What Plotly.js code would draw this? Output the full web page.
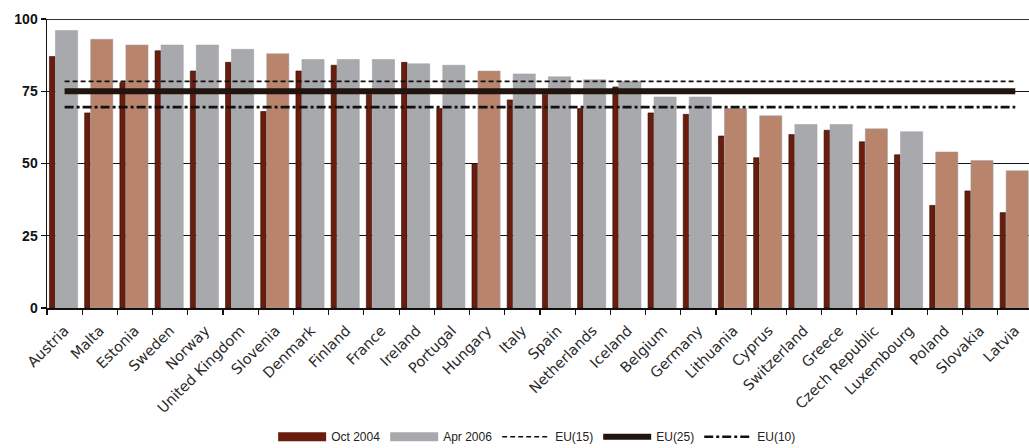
<!DOCTYPE html>
<html>
<head>
<meta charset="utf-8">
<script src="https://cdn.plot.ly/plotly-3.0.1.min.js"></script>
<style>
  html, body { margin: 0; padding: 0; background: #ffffff; }
  #chart { width: 1029px; height: 448px; }
</style>
</head>
<body>
<div id="chart"></div>
<script>
// ---- Data ----
const categories = ["Austria", "Malta", "Estonia", "Sweden", "Norway", "United Kingdom", "Slovenia",
  "Denmark", "Finland", "France", "Ireland", "Portugal", "Hungary", "Italy", "Spain", "Netherlands",
  "Iceland", "Belgium", "Germany", "Lithuania", "Cyprus", "Switzerland", "Greece", "Czech Republic",
  "Luxembourg", "Poland", "Slovakia", "Latvia"];

const oct2004 = [87, 67.5, 78, 89, 82, 85, 68, 82, 84, 74, 85, 69, 50, 72, 74, 69, 76.5, 67.5,
  67, 59.5, 52, 60, 61.5, 57.5, 53, 35.5, 40.5, 33];

const apr2006 = [96, 93, 91, 91, 91, 89.5, 88, 86, 86, 86, 84.5, 84, 82, 81, 80, 79, 78.5, 73,
  73, 69, 66.5, 63.5, 63.5, 62, 61, 54, 51, 47.5];

// New member states (EU10) are shown in a different shade for Apr 2006
const newMemberStates = ["Malta", "Estonia", "Slovenia", "Hungary", "Lithuania", "Cyprus",
  "Czech Republic", "Poland", "Slovakia", "Latvia"];

const eu15 = 78.4;
const eu25 = 75;
const eu10 = 69.5;

const yTicks = [0, 25, 50, 75, 100];

// ---- Styles ----
const darkRed = "#6b1d0d";
const greyCol = "#a8a9ad";
const salmonCol = "#b9846c";
const aprColors = categories.map(c => newMemberStates.includes(c) ? salmonCol : greyCol);

const first = categories[0];
const last = categories[categories.length - 1];

const traces = [
  {
    type: "bar", name: "Oct 2004", x: categories, y: oct2004,
    offset: -0.43, width: 0.155, legendgroup: "oct", showlegend: false,
    marker: { color: darkRed, line: { color: "#2a0904", width: 0.6 } },
    hoverinfo: "x+y"
  },
  {
    type: "bar", name: "Apr 2006", x: categories, y: apr2006,
    offset: -0.26, width: 0.63, legendgroup: "apr", showlegend: false,
    marker: { color: aprColors, line: { color: "#9a9ca2", width: 0.5 } },
    hoverinfo: "x+y"
  },
  // legend swatches (wide rectangles, as in the reference legend)
  {
    type: "scatter", mode: "lines", name: "Oct 2004", x: [null], y: [null], legendgroup: "oct",
    line: { color: darkRed, width: 9 }
  },
  {
    type: "scatter", mode: "lines", name: "Apr 2006", x: [null], y: [null], legendgroup: "apr",
    line: { color: greyCol, width: 9 }
  },
  {
    type: "scatter", mode: "lines", name: "EU(15)", x: [first, last], y: [eu15, eu15],
    line: { color: "#111111", width: 1.6, dash: "5px,3px" }
  },
  {
    type: "scatter", mode: "lines", name: "EU(25)", x: [first, last], y: [eu25, eu25],
    line: { color: "#21140f", width: 6 }
  },
  {
    type: "scatter", mode: "lines", name: "EU(10)", x: [first, last], y: [eu10, eu10],
    line: { color: "#111111", width: 2.6, dash: "9px,3px,3px,3px" }
  }
];

const layout = {
  width: 1029, height: 448,
  margin: { l: 47, r: 0, t: 19, b: 140, pad: 0 },
  paper_bgcolor: "#ffffff", plot_bgcolor: "#ffffff",
  barmode: "overlay",
  showlegend: true,
  font: { family: "Liberation Sans, Arial, sans-serif", color: "#222222", size: 12 },
  xaxis: {
    type: "category",
    range: [-0.5, 27.39],
    tickson: "boundaries",
    ticks: "outside", ticklen: 5, tickwidth: 1.2, tickcolor: "#111111",
    tickangle: -45,
    ticklabelstandoff: 7,
    tickfont: { size: 14.5, color: "#2a2a2a", family: "DejaVu Sans, sans-serif" },
    showline: true, linecolor: "#111111", linewidth: 1.5,
    showgrid: false, zeroline: false, fixedrange: true
  },
  yaxis: {
    range: [0, 100],
    tickvals: yTicks,
    ticktext: yTicks.map(String),
    ticks: "outside", ticklen: 5, tickwidth: 1.2, tickcolor: "#111111",
    tickfont: { size: 14, color: "#111111", family: "Liberation Sans, Arial, sans-serif", weight: "bold" },
    showline: true, linecolor: "#111111", linewidth: 1.5,
    showgrid: true, gridcolor: "#111111", gridwidth: 1,
    zeroline: false, fixedrange: true
  },
  shapes: [
    { type: "line", xref: "paper", yref: "y", x0: 0, x1: 1, y0: 100, y1: 100,
      line: { color: "#333333", width: 2 }, layer: "above" }
  ],
  legend: {
    orientation: "h",
    xref: "container", yref: "container",
    x: 0.522, xanchor: "center",
    y: 0.025, yanchor: "middle",
    font: { size: 12, color: "#222222" },
    itemwidth: 48,
    bgcolor: "rgba(0,0,0,0)",
    traceorder: "normal"
  }
};

Plotly.newPlot("chart", traces, layout, { displayModeBar: false, staticPlot: true });
</script>
</body>
</html>
